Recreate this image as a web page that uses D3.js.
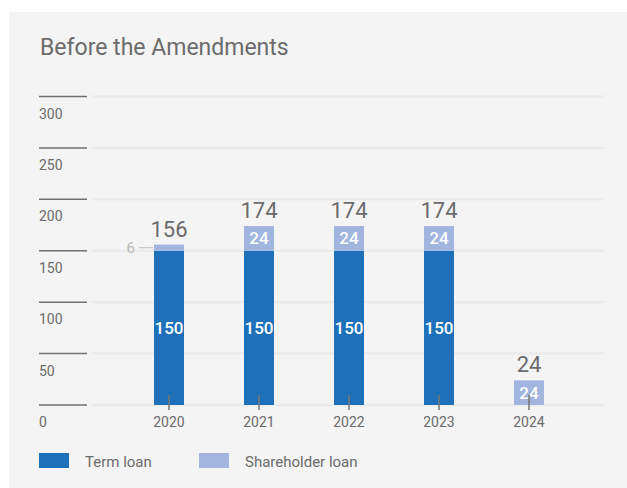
<!DOCTYPE html>
<html>
<head>
<meta charset="utf-8">
<script src="https://cdn.jsdelivr.net/npm/d3@7"></script>
<style>
  html, body { margin: 0; padding: 0; background: #ffffff; }
  svg { display: block; font-family: Roboto, "Noto Sans", sans-serif; }
</style>
</head>
<body>
<svg id="chart" width="627" height="488"></svg>
<script>
// Loan balances by year (stacked: term loan + shareholder loan)
const years = ["2020", "2021", "2022", "2023", "2024"];
const termLoan = [150, 150, 150, 150, 0];
const shareholderLoan = [6, 24, 24, 24, 24];
const yTicks = [0, 50, 100, 150, 200, 250, 300];
const seriesNames = ["Term loan", "Shareholder loan"];

const colors = { term: "#1e70b9", share: "#a1b5df" };
const textGray = "#6b6b6b";

const svg = d3.select("#chart");

// panel background
svg.append("rect").attr("x", 9).attr("y", 12).attr("width", 618).attr("height", 476).attr("fill", "#f4f4f4");

svg.append("text")
  .attr("x", 40).attr("y", 55)
  .attr("fill", textGray)
  .attr("font-size", 23)
  .text("Before the Amendments");

const y = d3.scaleLinear().domain([0, 300]).range([405, 96.5]);
const x = d3.scaleBand().domain(years).range([124, 574]).paddingInner(2 / 3).paddingOuter(1 / 3);

// gridlines
svg.append("g").selectAll("line").data(yTicks).join("line")
  .attr("x1", 92).attr("x2", 604)
  .attr("y1", d => y(d)).attr("y2", d => y(d))
  .attr("stroke", "#ebebeb").attr("stroke-width", 2.5);

// y axis: short rules with labels underneath
const yAxis = svg.append("g");
yAxis.selectAll("line").data(yTicks).join("line")
  .attr("x1", 39).attr("x2", 87)
  .attr("y1", d => y(d)).attr("y2", d => y(d))
  .attr("stroke", "#6f6f6f").attr("stroke-width", 1.5);
yAxis.selectAll("text").data(yTicks).join("text")
  .attr("x", 39).attr("y", d => y(d) + 22)
  .attr("fill", textGray).attr("font-size", 14)
  .text(d => d);

const data = years.map((yr, i) => ({ year: yr, term: termLoan[i], share: shareholderLoan[i] }));
const stack = d3.stack().keys(["term", "share"])(data);

const cx = d => x(d) + x.bandwidth() / 2;

// bars
stack.forEach(layer => {
  svg.append("g").selectAll("rect").data(layer.filter(d => d[1] > d[0])).join("rect")
    .attr("x", d => x(d.data.year))
    .attr("width", x.bandwidth())
    .attr("y", d => y(d[1]))
    .attr("height", d => y(d[0]) - y(d[1]))
    .attr("fill", layer.key === "term" ? colors.term : colors.share);
});

// segment labels inside bars (shareholder segment must be tall enough)
stack.forEach(layer => {
  svg.append("g").selectAll("text")
    .data(layer.filter(d => d[1] - d[0] >= 15))
    .join("text")
    .attr("x", d => cx(d.data.year))
    .attr("y", d => (y(d[0]) + y(d[1])) / 2 + 6)
    .attr("text-anchor", "middle")
    .attr("fill", "#ffffff")
    .attr("font-size", 17)
    .attr("font-weight", 500)
    .text(d => d[1] - d[0]);
});

// callout for small shareholder segment
data.forEach(d => {
  if (d.share > 0 && d.share < 15) {
    const mid = y(d.term + d.share / 2);
    svg.append("line")
      .attr("x1", x(d.year) - 15).attr("x2", x(d.year) - 1)
      .attr("y1", mid).attr("y2", mid)
      .attr("stroke", "#c4c4c4").attr("stroke-width", 1.2);
    svg.append("text")
      .attr("x", x(d.year) - 19).attr("y", mid + 5)
      .attr("text-anchor", "end")
      .attr("fill", "#b8b8b8").attr("font-size", 15)
      .text(d.share);
  }
});

// totals above bars
svg.append("g").selectAll("text").data(data).join("text")
  .attr("x", d => cx(d.year))
  .attr("y", d => y(d.term + d.share) - 8)
  .attr("text-anchor", "middle")
  .attr("fill", textGray)
  .attr("font-size", 22)
  .text(d => d.term + d.share);

// x axis ticks and labels
const xAxis = svg.append("g");
xAxis.selectAll("line").data(years).join("line")
  .attr("x1", cx).attr("x2", cx)
  .attr("y1", 395).attr("y2", 410)
  .attr("stroke", "#777").attr("stroke-width", 1.5);
xAxis.selectAll("text").data(years).join("text")
  .attr("x", cx).attr("y", 427)
  .attr("text-anchor", "middle")
  .attr("fill", textGray).attr("font-size", 14)
  .text(d => d);

// legend
const legend = svg.append("g");
const legendX = [39, 199];
seriesNames.forEach((name, i) => {
  legend.append("rect")
    .attr("x", legendX[i]).attr("y", 453)
    .attr("width", 30).attr("height", 15)
    .attr("fill", i === 0 ? colors.term : colors.share);
  legend.append("text")
    .attr("x", legendX[i] + 46).attr("y", 467)
    .attr("fill", textGray).attr("font-size", 15)
    .text(name);
});
</script>
</body>
</html>
